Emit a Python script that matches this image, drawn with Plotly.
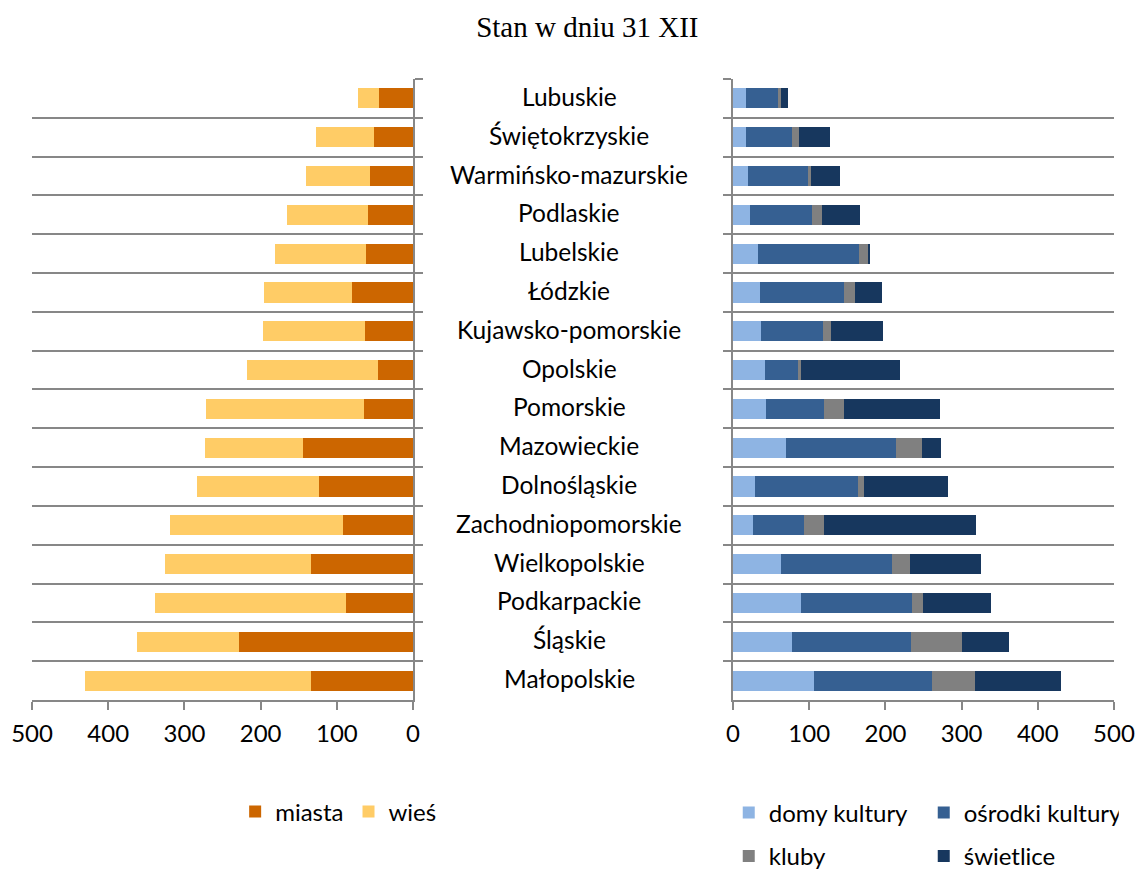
import plotly.graph_objects as go

# województwa, od góry do dołu
regions = [
    "Lubuskie", "Świętokrzyskie", "Warmińsko-mazurskie", "Podlaskie",
    "Lubelskie", "Łódzkie", "Kujawsko-pomorskie", "Opolskie", "Pomorskie",
    "Mazowieckie", "Dolnośląskie", "Zachodniopomorskie", "Wielkopolskie",
    "Podkarpackie", "Śląskie", "Małopolskie",
]

# lewy panel
miasta = [45, 51, 56, 59, 62, 80, 63, 46, 64, 145, 123, 92, 134, 88, 228, 134]
wies = [27, 76, 84, 107, 119, 115, 134, 172, 208, 128, 160, 227, 192, 250, 134, 296]

# prawy panel
domy_kultury = [17, 17, 19, 22, 33, 36, 37, 42, 43, 70, 29, 26, 63, 89, 77, 106]
osrodki_kultury = [42, 60, 80, 82, 132, 110, 81, 43, 76, 144, 135, 67, 146, 146, 157, 155]
kluby = [4, 10, 3, 13, 13, 14, 10, 4, 26, 34, 8, 26, 23, 14, 67, 56]
swietlice = [9, 40, 38, 50, 2, 35, 69, 130, 127, 25, 110, 200, 94, 89, 61, 113]

ticks = [0, 100, 200, 300, 400, 500]

GRID = "#878787"
FONT = "Lato"

fig = go.Figure()

fig.add_trace(go.Bar(y=regions, x=miasta, name="miasta", orientation="h",
                     marker=dict(color="#CC6600", line=dict(width=0)),
                     xaxis="x", yaxis="y", legend="legend"))
fig.add_trace(go.Bar(y=regions, x=wies, name="wieś", orientation="h",
                     marker=dict(color="#FFCC66", line=dict(width=0)),
                     xaxis="x", yaxis="y", legend="legend"))

right = [
    ("domy kultury", domy_kultury, "#8EB4E3", "legend2"),
    ("ośrodki kultury", osrodki_kultury, "#366092", "legend2"),
    ("kluby", kluby, "#808080", "legend3"),
    ("świetlice", swietlice, "#17375E", "legend3"),
]
for name, vals, col, leg in right:
    fig.add_trace(go.Bar(y=regions, x=vals, name=name, orientation="h",
                         marker=dict(color=col, line=dict(width=0)),
                         xaxis="x2", yaxis="y2", legend=leg))

xcommon = dict(showgrid=False, zeroline=False, showline=True, linecolor=GRID,
               linewidth=1.5, ticks="outside", ticklen=8, tickcolor=GRID,
               tickwidth=1.5, tickvals=ticks, tickfont=dict(family=FONT, size=24, color="black"),
               ticklabelstandoff=3, automargin=False, fixedrange=True)
ycommon = dict(type="category", tickson="boundaries", showgrid=True, gridcolor=GRID,
               gridwidth=1.5, showline=True, linecolor=GRID, linewidth=1.5,
               ticks="outside", ticklen=8, tickcolor=GRID, tickwidth=1.5,
               showticklabels=False, autorange="reversed", zeroline=False,
               automargin=False, fixedrange=True, domain=[0.1954, 0.9092])

legfont = dict(family=FONT, size=24)

fig.update_layout(
    width=1136, height=870,
    margin=dict(l=0, r=0, t=0, b=0, autoexpand=False),
    paper_bgcolor="white", plot_bgcolor="white",
    barmode="stack", bargap=0.48,
    font=dict(family=FONT, color="black"),
    title=dict(text="Stan w dniu 31 XII", x=0.517, xanchor="center",
               y=0.969, yanchor="middle", automargin=False,
               font=dict(family="Liberation Serif", size=29, color="black")),
    xaxis=dict(domain=[0.0282, 0.3636], range=[500, 0], **xcommon),
    xaxis2=dict(domain=[0.6453, 0.9806], range=[0, 500], anchor="y2", **xcommon),
    yaxis=dict(anchor="x", side="right", **ycommon),
    yaxis2=dict(anchor="x2", side="left", **ycommon),
    legend=dict(orientation="h", x=0.207, xanchor="left", y=0.0667, yanchor="middle",
                font=legfont, traceorder="normal",
                entrywidthmode="pixels", entrywidth=0, bgcolor="rgba(0,0,0,0)"),
    legend2=dict(orientation="h", x=0.6415, xanchor="left", y=0.0655, yanchor="middle",
                 font=legfont, traceorder="normal",
                 entrywidthmode="pixels", entrywidth=150, bgcolor="rgba(0,0,0,0)"),
    legend3=dict(orientation="h", x=0.6415, xanchor="left", y=0.0155, yanchor="middle",
                 font=legfont, traceorder="normal",
                 entrywidthmode="pixels", entrywidth=150, bgcolor="rgba(0,0,0,0)"),
)

for r in regions:
    fig.add_annotation(x=0.5009, xref="paper", y=r, yref="y", text=r, showarrow=False,
                       xanchor="center", yanchor="middle", yshift=2,
                       font=dict(family=FONT, size=24.5, color="black"))

fig.write_html("out.html", config={"displayModeBar": False},
               post_script="document.body.style.margin='0';")
